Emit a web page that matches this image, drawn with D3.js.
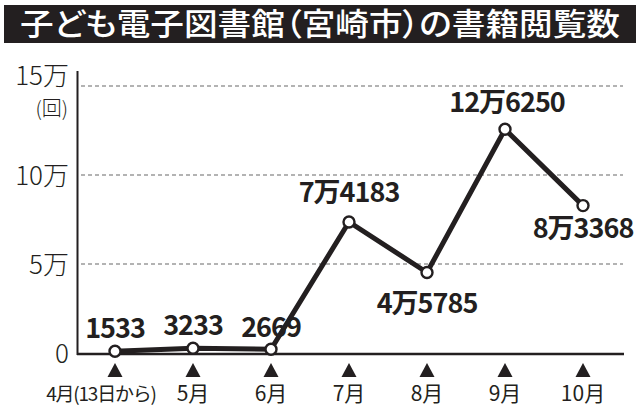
<!DOCTYPE html>
<html><head><meta charset="utf-8">
<script src="https://cdn.jsdelivr.net/npm/d3@7"></script>
<style>body{margin:0;background:#fff;}svg{display:block;}</style>
</head><body>
<svg id="c" width="640" height="410"></svg>
<script>
const title = "子ども電子図書館（宮崎市）の書籍閲覧数";
const months = ["4月(13日から)", "5月", "6月", "7月", "8月", "9月", "10月"];
const values = [1533, 3233, 2669, 74183, 45785, 126250, 83368];
const valueLabels = ["1533", "3233", "2669", "7万4183", "4万5785", "12万6250", "8万3368"];
const yTicks = [0, 50000, 100000, 150000];
const yTickLabels = ["0", "5万", "10万", "15万"];
const unitLabel = "(回)";

const svg = d3.select("#c");
const font = "'Noto Sans CJK JP', 'Noto Sans', sans-serif";

// title bar
svg.append("rect").attr("x", 4).attr("y", 5).attr("width", 632).attr("height", 38).attr("fill", "#231f20");
svg.append("text").attr("x", 320).attr("y", 35).attr("text-anchor", "middle")
  .attr("font-family", font).attr("font-weight", 500).attr("font-size", 31)
  .style("font-feature-settings", "'palt'")
  .attr("fill", "#fff").attr("textLength", 600).attr("lengthAdjust", "spacingAndGlyphs").text(title);

const x = d3.scalePoint().domain(d3.range(months.length)).range([115, 583]);
const y = d3.scaleLinear().domain([0, 150000]).range([354, 87]);

// grid
svg.append("g").selectAll("line").data(yTicks.filter(d => d > 0)).join("line")
  .attr("x1", 81).attr("x2", 623).attr("y1", d => y(d) - 1).attr("y2", d => y(d) - 1)
  .attr("stroke", "#9a9a9a").attr("stroke-width", 1.3).attr("stroke-dasharray", "4,3");

// axes
svg.append("line").attr("x1", 77.5).attr("x2", 77.5).attr("y1", 71).attr("y2", y(0) + 1)
  .attr("stroke", "#231f20").attr("stroke-width", 2);
svg.append("line").attr("x1", 77).attr("x2", 624).attr("y1", y(0)).attr("y2", y(0))
  .attr("stroke", "#231f20").attr("stroke-width", 2.4);

// y labels
svg.append("g").selectAll("text").data(yTicks).join("text")
  .attr("x", 69).attr("y", d => d === 150000 ? y(d) - 2 : y(d) + 9).attr("text-anchor", "end")
  .attr("font-family", font).attr("font-weight", 300).attr("font-size", 26).attr("fill", "#231f20")
  .text((d, i) => yTickLabels[i]);
svg.append("text").attr("x", 68).attr("y", 116).attr("text-anchor", "end")
  .attr("font-family", font).attr("font-weight", 300).attr("font-size", 20).attr("fill", "#231f20").text(unitLabel);

// triangles
svg.append("g").selectAll("path").data(months).join("path")
  .attr("d", (d, i) => `M${x(i)},363 L${x(i) + 7.5},377 L${x(i) - 7.5},377 Z`).attr("fill", "#231f20");

// x labels
svg.append("g").selectAll("text").data(months).join("text")
  .attr("x", (d, i) => i === 0 ? x(i) - 14 : x(i)).attr("y", 401).attr("text-anchor", "middle")
  .attr("font-family", font).attr("font-weight", 400)
  .attr("font-size", (d, i) => i === 0 ? 19 : 21)
  .attr("letter-spacing", (d, i) => i === 0 ? -1.2 : 0)
  .attr("fill", "#231f20")
  .text(d => d);

// line
const line = d3.line().x((d, i) => x(i)).y(d => y(d));
svg.append("path").datum(values).attr("d", line).attr("fill", "none")
  .attr("stroke", "#231f20").attr("stroke-width", 5).attr("stroke-linejoin", "miter");

svg.append("g").selectAll("circle").data(values).join("circle")
  .attr("cx", (d, i) => x(i)).attr("cy", d => y(d)).attr("r", 5.5)
  .attr("fill", "#fff").attr("stroke", "#231f20").attr("stroke-width", 2.4);

// value labels
const labelOffsets = [[0, -13], [0, -13], [0, -12], [0, -20], [0, 40], [2, -17], [0, 32]];
svg.append("g").selectAll("text").data(values).join("text")
  .attr("x", (d, i) => x(i) + labelOffsets[i][0]).attr("y", (d, i) => y(d) + labelOffsets[i][1])
  .attr("text-anchor", "middle").attr("font-family", font).attr("font-weight", 700)
  .attr("font-size", 27).attr("fill", "#231f20").attr("letter-spacing", -1)
  .text((d, i) => valueLabels[i]);
</script>
</body></html>
